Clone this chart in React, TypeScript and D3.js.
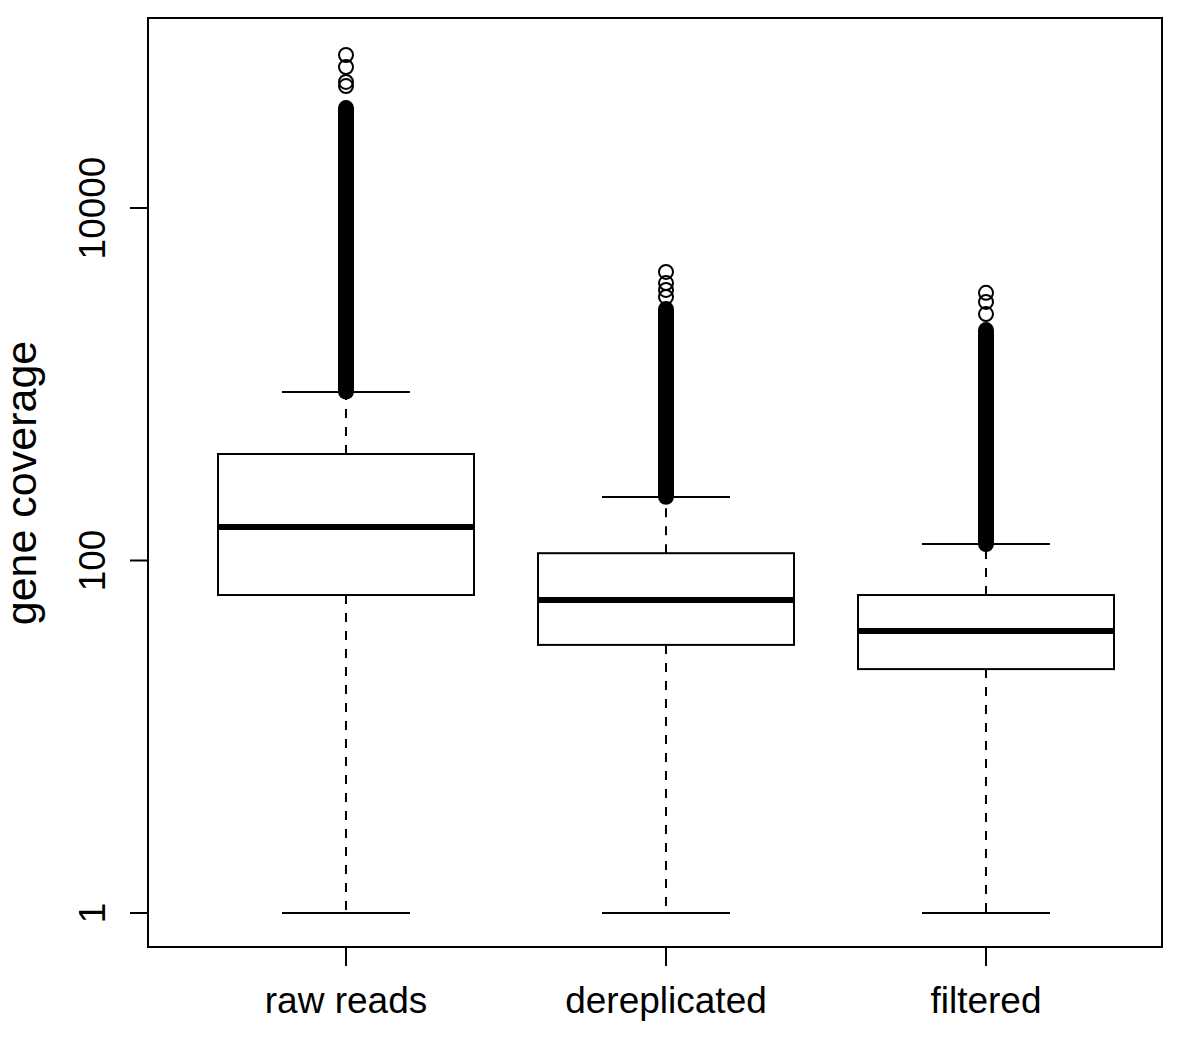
import React from "react";
import { scaleLog, scalePoint } from "d3";

// box statistics (gene coverage, log scale)
const categories = ["raw reads", "dereplicated", "filtered"];
const lowerWhisker = [1, 1, 1];
const q1 = [63.7, 33.2, 24.2];
const median = [155, 59.7, 39.8];
const q3 = [402, 110, 63.7];
const upperWhisker = [904, 229, 124];

// outliers: a dense run of overlapping circles, then a few separate ones on top
const denseOutlierLow = [910, 230, 124];
const denseOutlierHigh = [36900, 2670, 2030];
const separateOutliers = [
  [49200, 51900, 63100, 73800],
  [3130, 3430, 3750, 4340],
  [2500, 2930, 3300],
];

const yTicks = [1, 100, 10000];
const yTickLabels = ["1", "100", "10000"];

const W = 1200;
const H = 1037;
const plot = { left: 148, right: 1162, top: 18, bottom: 947 };
const font = "'Liberation Sans', Arial, Helvetica, sans-serif";

export default function App() {
  const x = scalePoint<string>()
    .domain(categories)
    .range([346, 986]);
  const step = x.step();
  const boxW = step * 0.8;

  const y = scaleLog().domain([1, 10000]).range([913, 208]);

  const r = 7;
  const sw = 2;

  return (
    <svg
      width={W}
      height={H}
      style={{ position: "absolute", left: 0, top: 0, background: "#fff" }}
      fontFamily={font}
    >
      <rect x={0} y={0} width={W} height={H} fill="#fff" />

      {categories.map((c, i) => {
        const cx = x(c) as number;
        return (
          <g key={c}>
            {/* whiskers */}
            <line
              x1={cx}
              x2={cx}
              y1={y(q3[i])}
              y2={y(upperWhisker[i])}
              stroke="#000"
              strokeWidth={sw}
              strokeDasharray="9,9"
            />
            <line
              x1={cx}
              x2={cx}
              y1={y(q1[i])}
              y2={y(lowerWhisker[i])}
              stroke="#000"
              strokeWidth={sw}
              strokeDasharray="9,9"
            />
            <line
              x1={cx - boxW / 4}
              x2={cx + boxW / 4}
              y1={y(upperWhisker[i])}
              y2={y(upperWhisker[i])}
              stroke="#000"
              strokeWidth={sw}
            />
            <line
              x1={cx - boxW / 4}
              x2={cx + boxW / 4}
              y1={y(lowerWhisker[i])}
              y2={y(lowerWhisker[i])}
              stroke="#000"
              strokeWidth={sw}
            />
            {/* box */}
            <rect
              x={cx - boxW / 2}
              y={y(q3[i])}
              width={boxW}
              height={y(q1[i]) - y(q3[i])}
              fill="#fff"
              stroke="#000"
              strokeWidth={sw}
            />
            <line
              x1={cx - boxW / 2}
              x2={cx + boxW / 2}
              y1={y(median[i])}
              y2={y(median[i])}
              stroke="#000"
              strokeWidth={6}
            />
            {/* dense outliers drawn as one solid capsule */}
            <rect
              x={cx - r - sw / 2}
              width={2 * r + sw}
              y={y(denseOutlierHigh[i]) - r - sw / 2}
              height={y(denseOutlierLow[i]) - y(denseOutlierHigh[i]) + 2 * r + sw}
              rx={r + sw / 2}
              fill="#000"
            />
            {separateOutliers[i].map((v, j) => (
              <circle
                key={j}
                cx={cx}
                cy={y(v)}
                r={r}
                fill="none"
                stroke="#000"
                strokeWidth={sw}
              />
            ))}
            {/* x tick + label */}
            <line
              x1={cx}
              x2={cx}
              y1={plot.bottom}
              y2={plot.bottom + 19}
              stroke="#000"
              strokeWidth={sw}
            />
            <text
              x={cx}
              y={1013}
              textAnchor="middle"
              fontSize={37}
              fill="#000"
            >
              {c}
            </text>
          </g>
        );
      })}

      {/* y axis */}
      {yTicks.map((t, i) => (
        <g key={t}>
          <line
            x1={plot.left - 18}
            x2={plot.left}
            y1={y(t)}
            y2={y(t)}
            stroke="#000"
            strokeWidth={sw}
          />
          <text
            transform={`translate(105,${y(t)}) rotate(-90)`}
            textAnchor="middle"
            fontSize={37}
            fill="#000"
          >
            {yTickLabels[i]}
          </text>
        </g>
      ))}

      <text
        transform={`translate(36,483) rotate(-90)`}
        textAnchor="middle"
        fontSize={43}
        fill="#000"
      >
        gene coverage
      </text>

      {/* frame */}
      <rect
        x={plot.left}
        y={plot.top}
        width={plot.right - plot.left}
        height={plot.bottom - plot.top}
        fill="none"
        stroke="#000"
        strokeWidth={sw}
      />
    </svg>
  );
}
